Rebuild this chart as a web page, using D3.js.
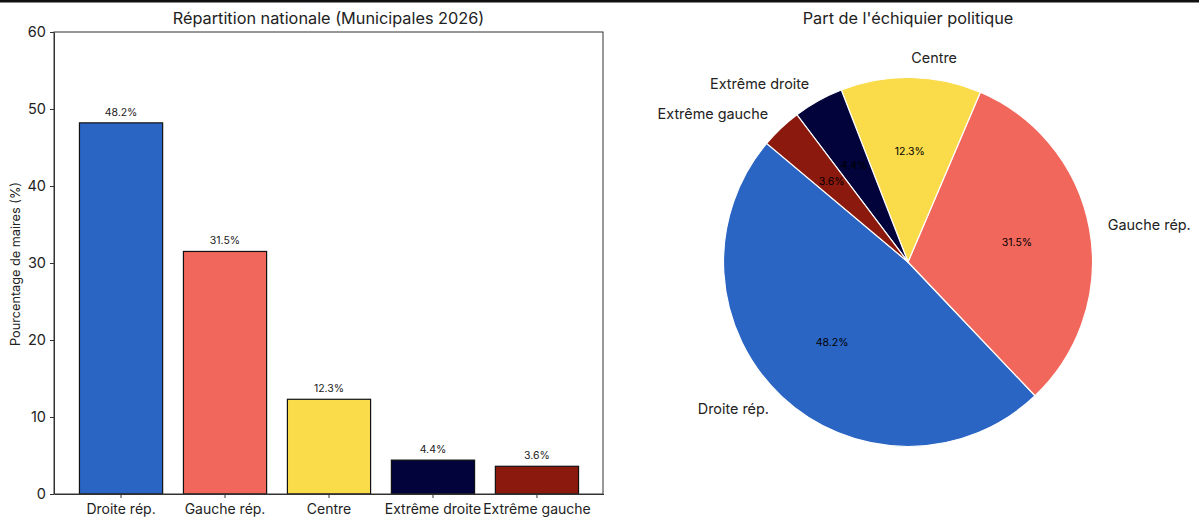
<!DOCTYPE html>
<html>
<head>
<meta charset="utf-8">
<script src="https://cdn.jsdelivr.net/npm/d3@7"></script>
<style>
  body { margin: 0; background: #fff; }
  svg { display: block; }
  text { font-family: Inter, "Noto Sans", sans-serif; fill: #222; }
</style>
</head>
<body>
<svg id="chart" width="1199" height="522"></svg>
<script>
const categories = ['Droite rép.', 'Gauche rép.', 'Centre', 'Extrême droite', 'Extrême gauche'];
const values = [48.2, 31.5, 12.3, 4.4, 3.6];
const colors = ['#2b65c4', '#f2675c', '#fadb4a', '#01033a', '#8c190d'];
const yTicks = [0, 10, 20, 30, 40, 50, 60];

const svg = d3.select('#chart');

// black strip along the top of the screenshot
svg.append('rect').attr('width', 1199).attr('height', 2.5).attr('fill', '#111');

// bar chart
const x = d3.scaleBand()
  .domain(categories)
  .range([54.5, 603.5])
  .paddingInner(0.2)
  .paddingOuter(0.24);
const y = d3.scaleLinear().domain([0, 60]).range([494, 32]);

const bars = svg.append('g');

bars.selectAll('rect')
  .data(categories)
  .join('rect')
  .attr('x', d => x(d))
  .attr('y', (d, i) => y(values[i]))
  .attr('width', x.bandwidth())
  .attr('height', (d, i) => y(0) - y(values[i]))
  .attr('fill', (d, i) => colors[i])
  .attr('stroke', '#111')
  .attr('stroke-width', 1.2);

bars.selectAll('text')
  .data(categories)
  .join('text')
  .attr('x', d => x(d) + x.bandwidth() / 2)
  .attr('y', (d, i) => y(values[i]) - 7)
  .attr('text-anchor', 'middle')
  .attr('font-size', 10.5)
  .text((d, i) => values[i] + '%');

const xAxis = d3.axisBottom(x).tickSize(4).tickSizeOuter(0).tickPadding(6);
const yAxis = d3.axisLeft(y).tickValues(yTicks).tickSize(4).tickSizeOuter(0).tickPadding(4);

const gx = svg.append('g').attr('transform', 'translate(0,' + y(0) + ')').call(xAxis);
gx.selectAll('text').attr('font-size', 14);
const gy = svg.append('g').attr('transform', 'translate(54,0)').call(yAxis);
gy.selectAll('text').attr('font-size', 14.5);
svg.selectAll('.domain').attr('stroke', '#333');
svg.selectAll('.tick line').attr('stroke', '#333');

// frame around the plot
svg.append('rect')
  .attr('x', 54).attr('y', 32)
  .attr('width', 549).attr('height', 462)
  .attr('fill', 'none')
  .attr('stroke', '#333')
  .attr('stroke-width', 1);

svg.append('text')
  .attr('x', 328.5).attr('y', 24)
  .attr('text-anchor', 'middle')
  .attr('font-size', 16.3)
  .text('Répartition nationale (Municipales 2026)');

svg.append('text')
  .attr('transform', 'translate(20,264) rotate(-90)')
  .attr('text-anchor', 'middle')
  .attr('font-size', 12.7)
  .text('Pourcentage de maires (%)');

// pie chart, counterclockwise from 140 degrees like the original
const radius = 184.5;
const start = (90 - 140) * Math.PI / 180;
const pie = d3.pie()
  .sort(null)
  .startAngle(start)
  .endAngle(start - 2 * Math.PI);
const arcs = pie(values);
const arc = d3.arc().innerRadius(0).outerRadius(radius);
const pctArc = d3.arc().innerRadius(radius * 0.6).outerRadius(radius * 0.6);
const labelArc = d3.arc().innerRadius(radius * 1.1).outerRadius(radius * 1.1);

const g = svg.append('g').attr('transform', 'translate(908,262)');

g.selectAll('path')
  .data(arcs)
  .join('path')
  .attr('d', arc)
  .attr('fill', (d, i) => colors[i])
  .attr('stroke', '#fff')
  .attr('stroke-width', 1.2);

g.selectAll('text.pct')
  .data(arcs)
  .join('text')
  .attr('class', 'pct')
  .attr('transform', d => 'translate(' + pctArc.centroid(d) + ')')
  .attr('text-anchor', 'middle')
  .attr('dy', '0.35em')
  .attr('font-size', 10.5)
  .style('fill', '#000')
  .text(d => d.value + '%');

g.selectAll('text.name')
  .data(arcs)
  .join('text')
  .attr('class', 'name')
  .attr('transform', d => 'translate(' + labelArc.centroid(d) + ')')
  .attr('text-anchor', d => labelArc.centroid(d)[0] < 0 ? 'end' : 'start')
  .attr('dy', '0.3em')
  .attr('font-size', 14.4)
  .text((d, i) => categories[i]);

svg.append('text')
  .attr('x', 908).attr('y', 24)
  .attr('text-anchor', 'middle')
  .attr('font-size', 16.3)
  .text("Part de l'échiquier politique");
</script>
</body>
</html>
